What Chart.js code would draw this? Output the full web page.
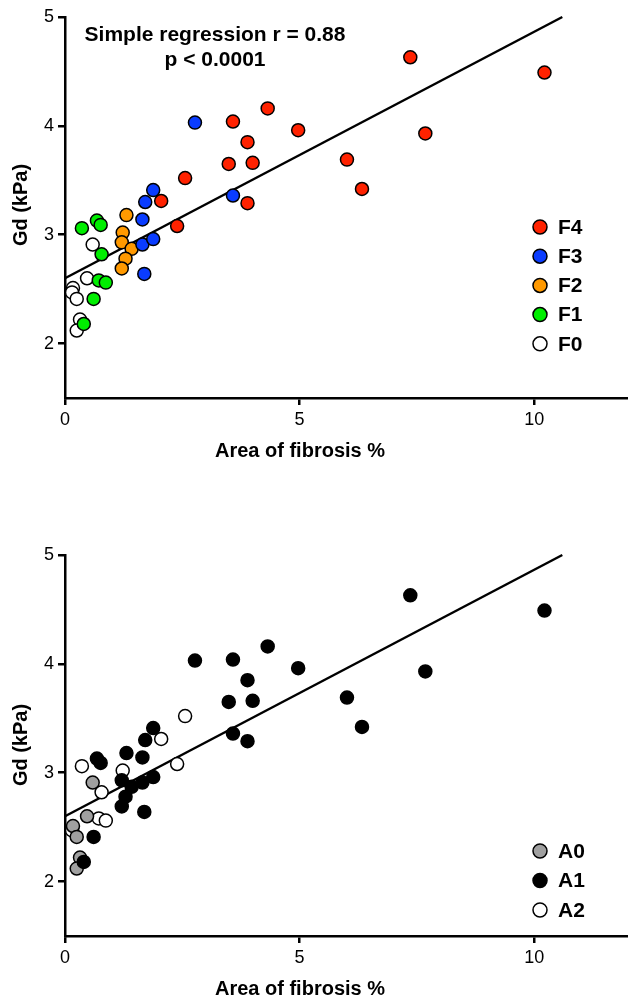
<!DOCTYPE html>
<html>
<head>
<meta charset="utf-8">
<script src="https://cdn.jsdelivr.net/npm/chart.js@4.4.1/dist/chart.umd.min.js"></script>
<style>
  html, body { margin: 0; padding: 0; background: #fff; overflow: hidden; }
  .panel { position: absolute; left: 0; width: 636px; height: 470px; }
  #top { top: 0; }
  #bottom { top: 538px; }
</style>
</head>
<body>
<div class="panel" id="top"><canvas id="chartF"></canvas></div>
<div class="panel" id="bottom"><canvas id="chartA"></canvas></div>
<script>
// Area of fibrosis (%) and Gd (kPa), one entry per patient
const fibrosisArea = [
  7.36, 10.22, 4.32, 3.58, 4.97, 3.89, 7.68, 3.49, 4.00, 2.56, 6.01, 6.33, 3.89, 2.05, 2.39,
  2.77, 1.88, 1.71, 3.58, 1.65, 1.65, 1.88, 1.69,
  1.31, 1.23, 1.21, 1.42, 1.29, 1.21,
  0.36, 0.68, 0.76, 0.78, 0.72, 0.87, 0.61, 0.40,
  0.59, 0.47, 0.17, 0.15, 0.25, 0.32, 0.25
];
const gdKpa = [
  4.63, 4.49, 4.16, 4.04, 3.96, 3.85, 3.93, 3.65, 3.66, 3.52, 3.69, 3.42, 3.29, 3.31, 3.08,
  4.03, 3.41, 3.30, 3.36, 3.14, 2.91, 2.96, 2.64,
  3.18, 3.02, 2.93, 2.87, 2.78, 2.69,
  3.06, 3.13, 3.09, 2.82, 2.58, 2.56, 2.41, 2.18,
  2.91, 2.60, 2.51, 2.47, 2.41, 2.22, 2.12
];
// fibrosis stage and activity grade of each patient
const fStage = [
  'F4','F4','F4','F4','F4','F4','F4','F4','F4','F4','F4','F4','F4','F4','F4',
  'F3','F3','F3','F3','F3','F3','F3','F3',
  'F2','F2','F2','F2','F2','F2',
  'F1','F1','F1','F1','F1','F1','F1','F1',
  'F0','F0','F0','F0','F0','F0','F0'
];
const aGrade = [
  'A1','A1','A1','A1','A1','A1','A1','A1','A1','A2','A1','A1','A1','A2','A2',
  'A1','A1','A1','A1','A1','A1','A1','A1',
  'A1','A2','A1','A1','A1','A1',
  'A2','A1','A1','A2','A2','A2','A1','A1',
  'A0','A0','A0','A2','A0','A0','A0'
];
const fLegend = ['F4', 'F3', 'F2', 'F1', 'F0'];
const aLegend = ['A0', 'A1', 'A2'];

// regression line end points
const fitX = [0, 10.6];
const fitY = [2.6, 5.0];

const xTicks = [0, 5, 10];
const yTicks = [2, 3, 4, 5];

const colors = {
  F4: '#ff2200', F3: '#0a3cff', F2: '#ff9900', F1: '#00ee00', F0: '#ffffff',
  A0: '#a0a0a0', A1: '#000000', A2: '#ffffff'
};
// lower = drawn on top
const drawOrder = { F4: 1, F3: 2, F2: 3, F1: 4, F0: 5, A1: 1, A0: 2, A2: 3 };

const FONT = '"Liberation Sans", Arial, sans-serif';

function groupPoints(groups, key) {
  const pts = [];
  fibrosisArea.forEach((x, i) => {
    if (groups[i] === key) pts.push({ x: x, y: gdKpa[i] });
  });
  return pts;
}

function buildDatasets(groups, keys) {
  const sets = keys.map(k => ({
    label: k,
    data: groupPoints(groups, k),
    backgroundColor: colors[k],
    borderColor: '#000',
    borderWidth: 1.5,
    pointRadius: 6.5,
    order: drawOrder[k],
    clip: false
  }));
  sets.push({
    label: 'fit',
    data: fitX.map((x, i) => ({ x: x, y: fitY[i] })),
    showLine: true,
    borderColor: '#000',
    borderWidth: 2.5,
    pointRadius: 0,
    order: 20,
    clip: false
  });
  return sets;
}

// axis titles, annotation and legend
const decor = {
  id: 'decor',
  afterDraw(chart, args, opts) {
    const ctx = chart.ctx;
    ctx.save();
    ctx.fillStyle = '#000';
    ctx.textBaseline = 'middle';
    ctx.textAlign = 'center';
    ctx.font = 'bold 20px ' + FONT;
    ctx.fillText(opts.xTitle, opts.xTitleAt[0], opts.xTitleAt[1]);
    ctx.save();
    ctx.translate(opts.yTitleAt[0], opts.yTitleAt[1]);
    ctx.rotate(-Math.PI / 2);
    ctx.fillText(opts.yTitle, 0, 0);
    ctx.restore();

    ctx.font = 'bold 21px ' + FONT;
    (opts.note || []).forEach((line, i) => {
      ctx.fillText(line, opts.noteAt[0], opts.noteAt[1] + i * 25);
    });

    ctx.textAlign = 'left';
    opts.legend.forEach((label, i) => {
      const ds = chart.data.datasets.find(d => d.label === label);
      const y = opts.legendAt[1] + i * opts.legendGap;
      ctx.beginPath();
      ctx.arc(opts.legendAt[0], y, 7, 0, Math.PI * 2);
      ctx.fillStyle = ds.backgroundColor;
      ctx.fill();
      ctx.lineWidth = 1.5;
      ctx.strokeStyle = '#000';
      ctx.stroke();
      ctx.fillStyle = '#000';
      ctx.fillText(label, opts.legendAt[0] + 18, y + 1);
    });
    ctx.restore();
  }
};

function axisOptions(min, max, ticks, fit) {
  return {
    type: 'linear',
    min: min,
    max: max,
    afterBuildTicks: s => { s.ticks = ticks.map(v => ({ value: v })); },
    afterFit: fit,
    grid: { display: true, drawOnChartArea: false, drawTicks: true, tickLength: 7, lineWidth: 2.5, color: '#000' },
    border: { display: true, width: 2.5, color: '#000' },
    ticks: { color: '#000', font: { family: FONT, size: 18 }, padding: 4, maxRotation: 0 }
  };
}

function makeChart(id, groups, keys, decorOpts) {
  return new Chart(document.getElementById(id), {
    type: 'scatter',
    data: { datasets: buildDatasets(groups, keys) },
    options: {
      responsive: true,
      maintainAspectRatio: false,
      animation: false,
      layout: { padding: { top: 17, right: 4, bottom: 0, left: 0 } },
      scales: {
        x: axisOptions(0, 12, xTicks, s => { s.height = 72; }),
        y: axisOptions(1.5, 5, yTicks, s => { s.width = 65; })
      },
      plugins: {
        legend: { display: false },
        tooltip: { enabled: false },
        decor: decorOpts
      }
    },
    plugins: [decor]
  });
}

makeChart('chartF', fStage, fLegend, {
  xTitle: 'Area of fibrosis %', xTitleAt: [300, 451],
  yTitle: 'Gd (kPa)', yTitleAt: [21, 205],
  note: ['Simple regression r = 0.88', 'p < 0.0001'], noteAt: [215, 35],
  legend: fLegend, legendAt: [540, 227], legendGap: 29.2
});

makeChart('chartA', aGrade, aLegend, {
  xTitle: 'Area of fibrosis %', xTitleAt: [300, 451],
  yTitle: 'Gd (kPa)', yTitleAt: [21, 207],
  legend: aLegend, legendAt: [540, 313], legendGap: 29.5
});
</script>
</body>
</html>
